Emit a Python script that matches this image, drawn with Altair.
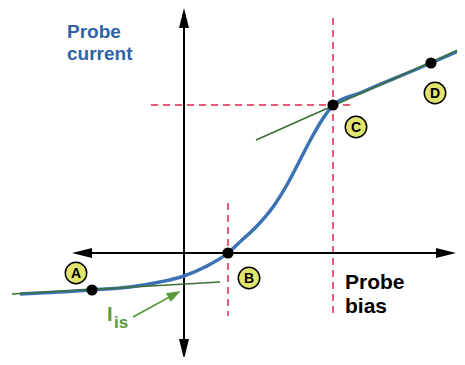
import altair as alt
import pandas as pd

# Probe I-V characteristic (arbitrary units; origin at the axes crossing)
curve_x = [-16.4, -12.4, -9.2, -5.4, -2.4, 0.0, 2.1, 4.4, 5.8, 7.1, 8.9, 10.4, 11.6, 12.8, 13.8, 14.5, 14.9, 17.6, 24.7, 28.1]
curve_y = [-4.1, -3.9, -3.7, -3.4, -2.9, -2.3, -1.4, 0.0, 1.3, 2.5, 4.6, 7.0, 9.3, 11.6, 13.3, 14.3, 14.8, 16.0, 19.0, 20.5]

# tangent (saturation) lines
ion_x = [-17.2, 3.6]
ion_y = [-4.1, -2.9]
ele_x = [7.2, 28.1]
ele_y = [11.3, 20.6]

# marked points A, B, C, D
pt_names = ["A", "B", "C", "D"]
pt_x = [-9.2, 4.4, 14.9, 24.7]
pt_y = [-3.7, 0.0, 14.8, 19.0]
lab_x = [-10.8, 6.5, 17.2, 25.1]
lab_y = [-2.0, -2.5, 12.6, 16.0]

# dashed guides
vguide_x = [4.4, 14.9]
vguide_y1 = [5.0, 23.5]
vguide_y2 = [-6.3, -6.3]
hguide_y = [14.8]
hguide_x1 = [-3.3]
hguide_x2 = [17.1]

# axes extents
vaxis_y = [23.5, -9.6]
haxis_x = [-10.4, 26.6]

XMIN, XMAX = -17.6, 27.3
YMIN, YMAX = -10.4, 24.5
W, H = 449, 349

xs = alt.Scale(domain=[XMIN, XMAX], nice=False, zero=False)
ys = alt.Scale(domain=[YMIN, YMAX], nice=False, zero=False)

def X(f="x"):
    return alt.X(f, type="quantitative", scale=xs, axis=None)

def Y(f="y"):
    return alt.Y(f, type="quantitative", scale=ys, axis=None)

BLUE = "#3b72b3"
DKGREEN = "#3d6e37"
GREEN = "#5b9a3c"
PINK = "#e95b78"
YELLOW = "#e0e36c"

# dashed guides
vg = alt.Chart(pd.DataFrame({"x": vguide_x, "y": vguide_y1, "y2": vguide_y2})).mark_rule(
    color=PINK, strokeWidth=2, strokeDash=[7, 5]
).encode(x=X(), y=Y(), y2="y2")
hg = alt.Chart(pd.DataFrame({"y": hguide_y, "x": hguide_x1, "x2": hguide_x2})).mark_rule(
    color=PINK, strokeWidth=2, strokeDash=[7, 5]
).encode(y=Y(), x=X(), x2="x2")

# axes
va = alt.Chart(pd.DataFrame({"x": [0.0], "y": [vaxis_y[0]], "y2": [vaxis_y[1]]})).mark_rule(
    color="black", strokeWidth=2
).encode(x=X(), y=Y(), y2="y2")
ha = alt.Chart(pd.DataFrame({"y": [0.0], "x": [haxis_x[0]], "x2": [haxis_x[1]]})).mark_rule(
    color="black", strokeWidth=2
).encode(y=Y(), x=X(), x2="x2")

heads = pd.DataFrame({
    "x": [0.0, 0.0, -10.2, 26.2],
    "y": [23.5, -9.6, 0.0, 0.0],
    "dir": ["up", "down", "left", "right"],
})
shape_map = {
    "up": "M0,-1L0.5,1L-0.5,1Z",
    "down": "M0,1L0.5,-1L-0.5,-1Z",
    "left": "M-1,0L1,0.5L1,-0.5Z",
    "right": "M1,0L-1,0.5L-1,-0.5Z",
}
head_layers = []
for _, r in heads.iterrows():
    head_layers.append(
        alt.Chart(pd.DataFrame([r])).mark_point(
            shape=shape_map[r["dir"]], size=400, filled=True, color="black", opacity=1, strokeWidth=0
        ).encode(x=X(), y=Y())
    )

# curve and tangents
curve = alt.Chart(pd.DataFrame({"x": curve_x, "y": curve_y})).mark_line(
    color=BLUE, strokeWidth=3.5, interpolate="monotone"
).encode(x=X(), y=Y())
ion = alt.Chart(pd.DataFrame({"x": ion_x, "y": ion_y})).mark_line(
    color=DKGREEN, strokeWidth=1.5
).encode(x=X(), y=Y())
ele = alt.Chart(pd.DataFrame({"x": ele_x, "y": ele_y})).mark_line(
    color=DKGREEN, strokeWidth=1.5
).encode(x=X(), y=Y())

dots = alt.Chart(pd.DataFrame({"x": pt_x, "y": pt_y})).mark_circle(
    color="black", size=125, opacity=1
).encode(x=X(), y=Y())

lab_df = pd.DataFrame({"x": lab_x, "y": lab_y, "t": pt_names})
lab_c = alt.Chart(lab_df).mark_point(
    shape="circle", size=460, filled=True, fill=YELLOW, stroke="black", strokeWidth=1.5, opacity=1
).encode(x=X(), y=Y())
lab_t = alt.Chart(lab_df).mark_text(
    font="Liberation Sans", fontWeight="bold", fontSize=14, color="black", baseline="middle", align="center", dy=1
).encode(x=X(), y=Y(), text="t")

# texts
txt_cur = alt.Chart(pd.DataFrame({"x": [-11.7], "y": [21.5], "t": [["Probe", "current"]]})).mark_text(
    font="Liberation Sans", fontWeight="bold", fontSize=19, color="#2f63a6", align="left",
    baseline="alphabetic", lineHeight=22
).encode(x=X(), y=Y(), text="t")
txt_bias = alt.Chart(pd.DataFrame({"x": [16.1], "y": [-3.6], "t": [["Probe", "bias"]]})).mark_text(
    font="Liberation Sans", fontWeight="bold", fontSize=21, color="black", align="left",
    baseline="alphabetic", lineHeight=24
).encode(x=X(), y=Y(), text="t")
txt_I = alt.Chart(pd.DataFrame({"x": [-7.7], "y": [-6.8], "t": ["I"]})).mark_text(
    font="Liberation Sans", fontWeight="bold", fontSize=20, color=GREEN, align="left", baseline="alphabetic"
).encode(x=X(), y=Y(), text="t")
txt_is = alt.Chart(pd.DataFrame({"x": [-7.0], "y": [-7.5], "t": ["is"]})).mark_text(
    font="Liberation Sans", fontWeight="bold", fontSize=17, color=GREEN, align="left", baseline="alphabetic"
).encode(x=X(), y=Y(), text="t")

# green arrow pointing at I_is
arr_line = alt.Chart(pd.DataFrame({"x": [-5.1, -0.9], "y": [-6.4, -4.1]})).mark_line(
    color=GREEN, strokeWidth=1.8
).encode(x=X(), y=Y())
arr_head = alt.Chart(pd.DataFrame({"x": [-0.95], "y": [-4.13]})).mark_point(
    shape="M1,0L-1,0.7L-1,-0.7Z", size=196, filled=True, color=GREEN, opacity=1, angle=331.6, strokeWidth=0
).encode(x=X(), y=Y())

chart = alt.layer(
    vg, hg, va, ha, *head_layers, curve, ion, ele, dots, lab_c, lab_t,
    txt_cur, txt_bias, txt_I, txt_is, arr_line, arr_head
).properties(
    width=W, height=H, padding=0, autosize=alt.AutoSizeParams(type="none")
).configure_view(stroke=None, clip=False)

chart.save("out.html", embed_options={"renderer": "svg", "actions": False})
